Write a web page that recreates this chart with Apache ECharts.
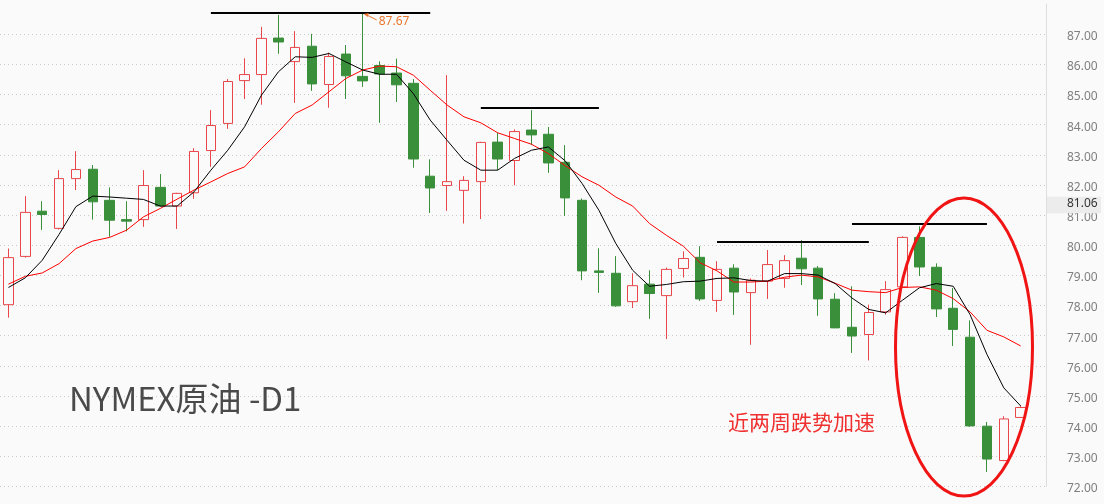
<!DOCTYPE html>
<html>
<head>
<meta charset="utf-8">
<script src="https://cdn.jsdelivr.net/npm/echarts@6/dist/echarts.min.js"></script>
<style>
html,body{margin:0;padding:0;background:#fafafa;}
#chart{width:1104px;height:504px;}
</style>
</head>
<body>
<div id="chart"></div>
<script>
// ---- data ----
const categories = [
 '03-14','03-15','03-18','03-19','03-20','03-21','03-22','03-25','03-26','03-27',
 '03-28','03-29','04-01','04-02','04-03','04-04','04-05','04-08','04-09','04-10',
 '04-11','04-12','04-15','04-16','04-17','04-18','04-19','04-22','04-23','04-24',
 '04-25','04-26','04-29','04-30','05-01','05-02','05-03','05-06','05-07','05-08',
 '05-09','05-10','05-13','05-14','05-15','05-16','05-17','05-20','05-21','05-22',
 '05-23','05-24','05-27','05-28','05-29','05-30','05-31','06-03','06-04','06-05',
 '06-06',''
];
const openV  = [78.03,79.63,81.13,80.56,82.21,82.52,81.49,80.85,80.85,81.92,
                81.30,81.74,83.14,84.04,85.46,85.66,86.87,86.09,86.60,85.33,
                86.34,85.60,85.96,85.71,85.37,82.29,81.98,81.82,82.11,83.42,
                82.81,83.82,83.68,82.75,81.49,79.15,79.07,78.13,78.71,78.33,
                79.23,79.60,78.17,79.24,78.43,78.81,78.90,79.57,79.24,78.21,
                77.28,77.04,77.79,78.62,80.26,79.27,77.91,76.95,74.00,72.86,
                74.29];
const closeV = [79.59,81.09,81.02,82.21,82.51,81.44,80.83,80.80,81.98,81.30,
                81.72,83.11,83.97,85.43,85.66,86.86,86.74,86.56,85.35,86.26,
                85.62,85.45,85.68,85.32,82.86,81.90,82.11,82.15,83.41,82.86,
                83.77,83.66,82.73,81.57,79.15,79.10,77.99,78.66,78.40,79.20,
                79.56,78.22,79.20,78.45,78.84,79.36,79.49,79.22,78.22,77.26,
                76.99,77.77,78.53,80.26,79.28,77.89,77.21,74.01,72.91,74.24,
                74.62];
const lowV   = [77.60,79.59,80.51,80.52,81.83,80.85,80.28,80.46,80.61,81.28,
                80.54,81.54,82.60,83.86,84.85,84.66,86.35,84.72,85.12,84.56,
                84.85,85.25,84.06,84.75,82.57,81.07,81.14,80.72,80.87,82.49,
                81.99,83.32,82.40,80.97,78.84,78.42,77.96,77.92,77.56,76.89,
                78.93,78.15,77.79,77.69,76.70,78.22,78.59,78.68,77.66,77.25,
                76.43,76.18,77.70,78.60,78.98,77.62,76.66,73.98,72.48,72.84,
                74.28];
const highV  = [79.89,81.63,81.46,82.49,83.12,82.66,81.92,81.46,82.49,82.36,
                81.74,83.22,84.48,85.51,86.20,87.24,87.64,87.10,87.01,86.39,
                86.64,87.67,86.10,86.19,85.51,82.85,85.64,82.29,83.43,83.73,
                83.84,84.48,83.92,83.32,81.55,79.90,79.64,79.07,79.17,79.26,
                79.80,79.97,79.47,79.37,78.90,79.84,79.67,80.17,79.31,78.41,
                78.64,78.03,78.81,80.30,80.63,79.40,78.58,77.51,74.14,74.33,
                74.68];
const maBlack = [78.60,78.92,79.50,80.36,81.28,81.63,81.60,81.56,81.52,81.30,
                 81.30,81.77,82.49,83.15,83.93,84.98,85.75,86.25,86.23,86.36,
                 86.08,85.81,85.67,85.67,85.03,84.15,83.48,82.82,82.49,82.49,
                 82.88,83.15,83.26,82.80,82.05,81.16,80.06,79.17,78.64,78.70,
                 78.79,78.81,78.90,78.92,78.83,78.81,79.06,79.06,79.01,78.73,
                 78.25,77.87,77.76,78.18,78.59,78.73,78.64,77.70,76.38,75.27,
                 74.67];
const maRed   = [78.71,78.97,79.08,79.39,79.89,80.14,80.26,80.50,80.94,81.22,
                 81.53,81.83,82.10,82.38,82.60,83.21,83.76,84.37,84.65,85.09,
                 85.53,85.81,85.94,85.92,85.64,85.14,84.65,84.26,84.06,83.73,
                 83.54,83.35,83.04,82.64,82.27,81.99,81.60,81.30,80.72,80.33,
                 79.97,79.42,79.15,78.78,78.78,78.81,78.94,79.01,78.95,78.74,
                 78.51,78.46,78.43,78.60,78.62,78.51,78.23,77.79,77.18,76.96,
                 76.66];
// horizontal resistance lines: [startIndex, endIndex, value]
const levelLines = [[12,25,87.70],[28,35,84.56],[42,51,80.12],[50,58,80.71]];
const highMark = {index:21, value:87.67, label:'87.67'};
const priceTag = 81.06;
const yTicks = {min:72, max:88, step:1};
const titleText = 'NYMEX原油 -D1';
const noteText = '近两周跌势加速';

const ohlc = openV.map((o,i)=>[o, closeV[i], lowV[i], highV[i]]);

const gridColors = [];
for (let v = yTicks.min; v < yTicks.max; v += yTicks.step) gridColors.push('#c9c9c9');
gridColors.push('rgba(0,0,0,0)');

const chart = echarts.init(document.getElementById('chart'), null, {renderer:'canvas'});
const option = {
  animation:false,
  backgroundColor:'#fafafa',
  grid:{left:0, right:58, top:4, bottom:17.5},
  xAxis:{type:'category', data:categories, boundaryGap:true,
         axisLine:{show:false}, axisTick:{show:false}, axisLabel:{show:false}, splitLine:{show:false}},
  yAxis:{type:'value', position:'right', min:yTicks.min, max:yTicks.max, interval:yTicks.step, scale:true,
         axisLine:{show:true, lineStyle:{color:'#dedede', width:1}},
         axisTick:{show:false},
         axisLabel:{margin:21, color:'#7f7f7f', fontSize:12, fontFamily:'Noto Sans',
                    showMaxLabel:false, formatter:v=>'{v|' + v.toFixed(2) + '}',
                    rich:{v:{color:'#7f7f7f', fontSize:12, fontFamily:'Noto Sans', padding:[5,0,0,0]}}},
         splitLine:{show:true, lineStyle:{color:gridColors, type:[1,3], width:1}}},
  series:[
    {type:'candlestick', data:ohlc, barWidth:10,
     itemStyle:{color:'rgba(250,250,250,1)', color0:'#3a8f3b', borderColor:'#e8464a', borderColor0:'#3a8f3b', borderWidth:1},
     markLine:{silent:true, symbol:['none','none'], label:{show:false},
       lineStyle:{color:'#000', width:2, type:'solid'},
       data: levelLines.map(l=>[{coord:[categories[l[0]], l[2]]},{coord:[categories[l[1]], l[2]]}])}
    },
    {type:'line', data:maRed, showSymbol:false, symbol:'none', lineStyle:{color:'#ff0000', width:1}, z:3},
    {type:'line', data:maBlack, showSymbol:false, symbol:'none', lineStyle:{color:'#000000', width:1}, z:4}
  ]
};
chart.setOption(option);

const pHigh = chart.convertToPixel({seriesIndex:0}, [highMark.index, highMark.value]);
const pTag = chart.convertToPixel({seriesIndex:0}, [0, priceTag]);
chart.setOption({
  graphic:[
    {type:'line', shape:{x1:pHigh[0]+3, y1:pHigh[1]+0.5, x2:pHigh[0]+14, y2:pHigh[1]+6},
     style:{stroke:'#e8762d', lineWidth:1}, z:10},
    {type:'polygon', shape:{points:[[pHigh[0]+1,pHigh[1]],[pHigh[0]+6,pHigh[1]-1],[pHigh[0]+5,pHigh[1]+3]]},
     style:{fill:'#e8762d'}, z:10},
    {type:'text', left:pHigh[0]+16, top:pHigh[1]+2,
     style:{text:highMark.label, fill:'#e8762d', fontSize:12, fontFamily:'Noto Sans'}, z:10},
    {type:'rect', shape:{x:1047, y:pTag[1]-16.5, width:54, height:16.5},
     style:{fill:'#ececec'}, z:10},
    {type:'text', left:1067, top:pTag[1]-16,
     style:{text:priceTag.toFixed(2), fill:'#333', fontSize:12, fontFamily:'Noto Sans'}, z:11},
    {type:'ellipse', shape:{cx:964, cy:347, rx:68.5, ry:149},
     style:{fill:'none', stroke:'#f01414', lineWidth:3}, z:12},
    {type:'text', left:69, top:382,
     style:{text:titleText, fill:'#4a4a4a', fontSize:33, fontFamily:'Noto Sans CJK SC'}, z:10},
    {type:'text', left:728, top:412,
     style:{text:noteText, fill:'#f03030', fontSize:21, fontFamily:'Noto Sans CJK SC'}, z:10}
  ]
});
</script>
</body>
</html>
